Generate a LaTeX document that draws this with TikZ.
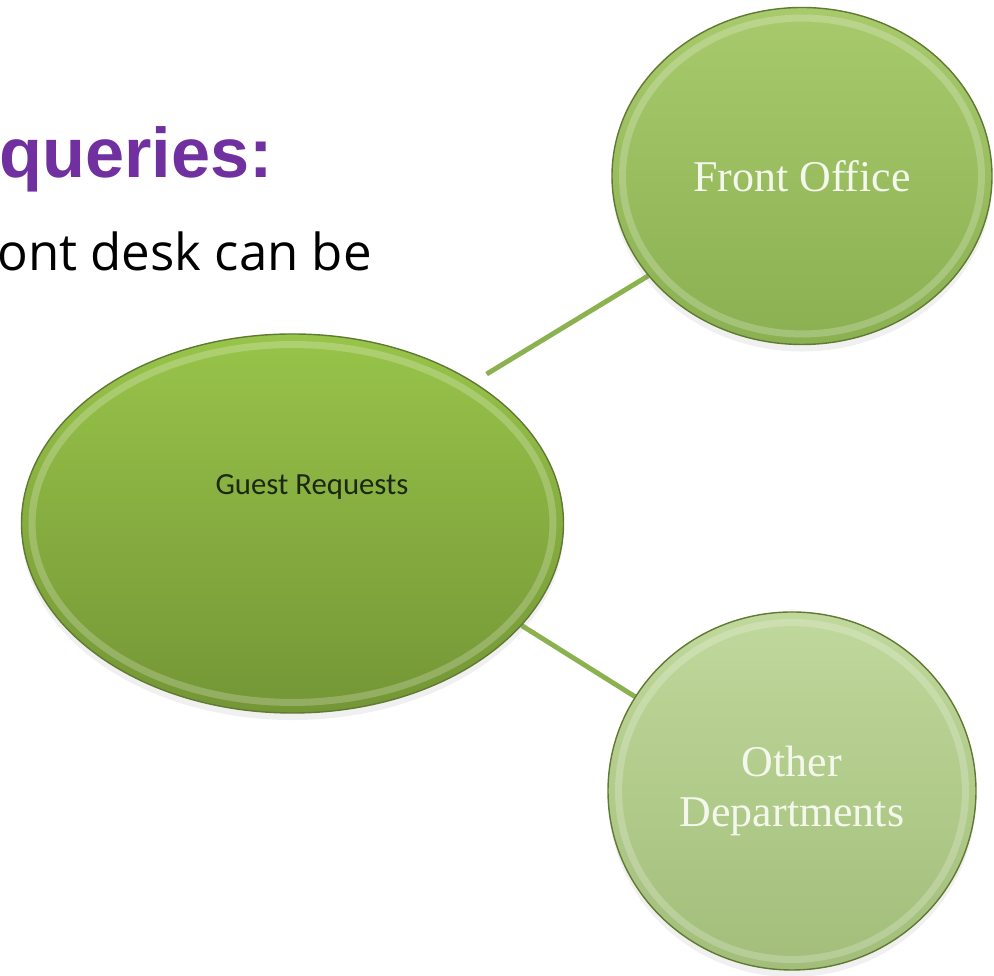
\documentclass[tikz,border=0pt]{standalone}
\usepackage{fontspec}
\setmainfont{Liberation Serif}
\newfontfamily\headfont{Liberation Sans}
\newfontfamily\bodyfont{Open Sans}
\newfontfamily\hubfont{Carlito}
\usetikzlibrary{shapes.geometric, calc, backgrounds, shadows}

\definecolor{headpurple}{RGB}{112, 48, 160}
\definecolor{hubtop}{RGB}{152, 196, 74}
\definecolor{hubbot}{RGB}{116, 150, 54}
\definecolor{fotop}{RGB}{168, 202, 108}
\definecolor{fobot}{RGB}{138, 176, 82}
\definecolor{odtop}{RGB}{192, 216, 156}
\definecolor{odbot}{RGB}{162, 190, 122}
\definecolor{rimdark}{RGB}{96, 122, 50}
\definecolor{linkgreen}{RGB}{140, 178, 80}
\definecolor{labelwhite}{RGB}{244, 248, 236}
\definecolor{hubtext}{RGB}{28, 40, 18}

\tikzset{
  bubble/.style={ellipse, draw=rimdark, line width=0.8pt, inner sep=0pt, align=center,
    drop shadow={opacity=0.12, shadow xshift=0pt, shadow yshift=-4pt},
    path picture={
      \draw[white, line width=4pt, opacity=0.22]
        let \p1=($(path picture bounding box.north east)-(path picture bounding box.center)$) in
        (path picture bounding box.center) ellipse [x radius=\x1-6pt, y radius=\y1-6pt];
    }},
  link/.style={linkgreen, line width=2.8pt}
}

\begin{document}
\begin{tikzpicture}
  \clip (0,0) rectangle (19.88,19.52);

  % Heading and first line, cut at the left edge
  \node[anchor=base west, inner sep=0pt, font=\headfont\bfseries\fontsize{40}{48}\selectfont, text=headpurple] (head) at (-0.02, 15.96) {queries:};
  \node[anchor=base west, inner sep=0pt, font=\bodyfont\fontsize{29}{34}\selectfont] (body) at (-0.06, 14.1) {ont desk can be};

  % Hub
  \node[bubble, top color=hubtop, bottom color=hubbot, minimum width=10.84cm, minimum height=7.58cm] (guest) at (5.85, 9.05) {};
  \node[font=\hubfont\fontsize{17.5}{21}\selectfont, text=hubtext] (guesttxt) at (6.24, 9.78) {Guest Requests};

  % Branches
  \node[bubble, top color=fotop, bottom color=fobot, minimum width=7.6cm, minimum height=6.74cm, text=labelwhite, font=\fontsize{25}{29}\selectfont] (front) at (16.04, 16.0) {Front Office};
  \node[bubble, top color=odtop, bottom color=odbot, minimum width=7.36cm, minimum height=7.16cm, text=labelwhite, font=\fontsize{25}{28}\selectfont] (other) at (15.84, 3.70) {Other\\Departments};

  \begin{scope}[on background layer]
    \draw[link, shorten <=0.3cm] (guest.38) -- (front.213.5);
    \draw[link] (guest.-24.5) -- (other.149.6);
  \end{scope}
\end{tikzpicture}
\end{document}
